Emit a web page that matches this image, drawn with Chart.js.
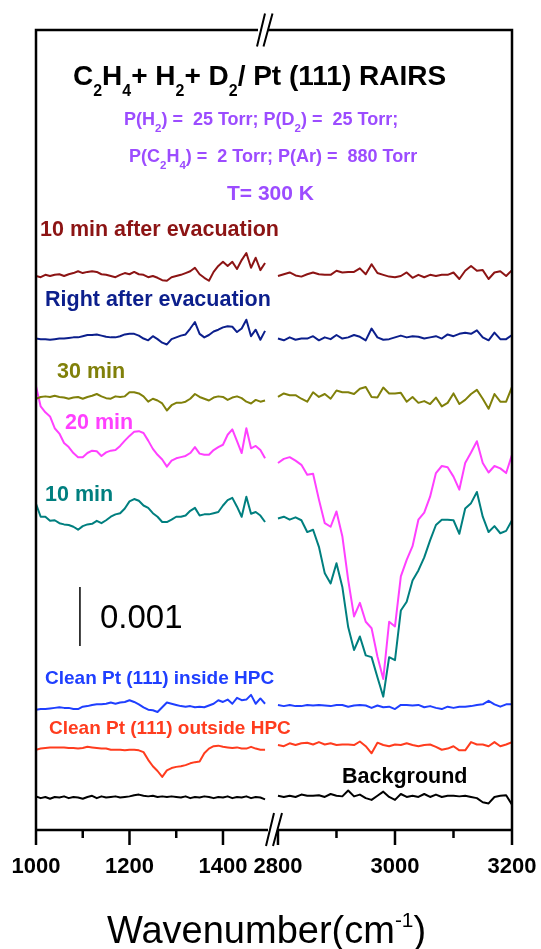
<!DOCTYPE html>
<html>
<head>
<meta charset="utf-8">
<script src="https://cdn.jsdelivr.net/npm/chart.js@4.4.1/dist/chart.umd.min.js"></script>
<style>
  html, body { margin: 0; padding: 0; background: #fff; }
  canvas { display: block; }
</style>
</head>
<body>
<canvas id="chart-rairs" width="541" height="949"></canvas>
<script>
const FONT = '"Liberation Sans", Arial, Helvetica, sans-serif'

// wavenumbers (cm-1) on both sides of the axis break
const waveLow = [1000, 1010, 1020, 1030, 1040, 1050, 1060, 1070, 1080, 1090,
    1100, 1110, 1120, 1130, 1140, 1150, 1160, 1170, 1180, 1190,
    1200, 1210, 1220, 1230, 1240, 1250, 1260, 1270, 1280, 1290,
    1300, 1310, 1320, 1330, 1340, 1350, 1360, 1370, 1380, 1390,
    1400, 1410, 1420, 1430, 1440, 1450, 1460, 1470, 1480, 1490]
const waveHigh = [2800, 2810, 2820, 2830, 2840, 2850, 2860, 2870, 2880, 2890,
    2900, 2910, 2920, 2930, 2940, 2950, 2960, 2970, 2980, 2990,
    3000, 3010, 3020, 3030, 3040, 3050, 3060, 3070, 3080, 3090,
    3100, 3110, 3120, 3130, 3140, 3150, 3160, 3170, 3180, 3190, 3200]

const lowMajorTicks = [1000, 1200, 1400]
const lowMinorTicks = [1100, 1300]
const highMajorTicks = [2800, 3000, 3200]
const highMinorTicks = [2900, 3100]

// spectra in 1e-4 absorbance units, relative to each trace's baseline
const after10Low = [0, -0.2, 0.2, 0, 0.2, 0.3, 0, 0.3, 0.5, 0.8,
    0.5, 0.7, 0.8, 0.7, 0.3, 0.2, 0, -0.2, 0.2, 0.5,
    0.3, 0.7, 0.3, 0.2, -0.2, 0, -0.3, -0.7, -0.8, -0.2,
    0, 0.2, 0.5, 0.8, 1.4, 0.3, -0.3, -0.8, 0.7, 1.7,
    2.4, 1.7, 2.4, 1.2, 2.7, 3.9, 1.4, 3.1, 1.0, 2.2]
const after10High = [0, 0.3, 0.6, 0.1, -0.1, 0.3, 0.6, 0.3, 0.2, 0.2,
    0.9, 0.6, 0.7, 0.7, 1.3, 0.3, 2.0, 0.5, 0.2, -0.1,
    -0.2, 0, 0.6, -0.3, 0.2, -0.2, 0.2, 0, 0.2, 0.2,
    0.6, -0.5, 0.9, 1.7, 0.9, 1.0, -0.5, 0.6, 0.8, 0, 1.0]

const afterNowLow = [0, -0.1, -0.1, -0.2, -0.1, 0, 0, 0.1, 0.2, 0.2,
    0.4, 0.6, 0.6, 0.7, 0.5, 0.3, 0.2, 0.2, 0.4, 0.7,
    0.8, 0.8, 0.5, 0, -0.3, 0.4, -0.1, -0.7, -1.0, -0.1,
    0.2, 0.5, 0.7, 1.7, 2.8, 0.8, 0.2, 0.6, 1.2, 1.5,
    1.9, 2.1, 2.0, 1.1, 1.7, 3.2, 0.4, 1.5, -0.2, 1.3]
const afterNowHigh = [0, -0.3, 0.2, -0.2, 0, 0, 0.4, -0.3, 0.2, -0.1,
    0.6, 0, 0.2, 0.6, 0.3, -0.3, 1.7, 0.2, -0.2, -0.1,
    0.2, 0.5, 0.2, 0.4, 0.3, 0, 0.2, 0.4, 0, 0.7,
    0.4, 0.8, 1.0, 0.8, 1.4, 0.2, -0.3, 1.0, -0.1, -0.1, 0.6]

const min30Low = [-0.3, 0, 0.1, 0, 0.2, 0, -0.1, -0.3, -0.1, 0,
    -0.3, 0, 0.2, 0.5, 0.1, -0.2, -0.3, 0.1, 0, 0.1,
    0.8, 0.8, 0.6, 0.1, -0.8, -0.3, -0.6, -1.1, -2.3, -1.4,
    -1.0, -1.0, -0.8, -0.3, 0.5, 0, -0.3, -0.6, -0.1, 0.1,
    0, -0.5, -0.1, 0.1, -0.2, -0.8, -1.1, -0.5, -0.8, -0.6]
const min30High = [0, 0.6, 0.3, 0.3, -0.3, -0.8, 0.8, 0, 0.5, -0.3,
    1.1, 0.8, 0.8, 0.5, 1.4, 1.7, 0, -0.1, 1.6, 0.6,
    0.6, 0.7, -0.8, 0, -1.0, -0.7, -1.2, -0.1, -1.6, -1.0,
    0.6, -1.2, -0.5, 0.5, 1.2, -0.3, -2.0, 0.5, -0.8, -0.8, 1.7]

const min20Low = [11.6, 8.2, 7.2, 6.5, 4.5, 3.6, 2.0, 1.3, 0.3, -0.4,
    -0.4, 0.3, 0.7, 0.6, -0.2, 0.4, 0.7, 0.8, 1.5, 2.4,
    3.2, 3.9, 4.0, 3.7, 2.4, 1.0, 0, -0.8, -2.0, -1.0,
    -0.6, -0.4, -0.2, 0.3, 1.3, 0.2, 0, 0, 0.8, 1.3,
    1.7, 3.4, 4.3, 2.3, 0.3, 4.5, 1.1, 1.5, 0.8, -0.6]
const min20High = [-1.4, -0.7, -0.4, -1.0, -1.7, -3.4, -3.2, -7.6, -11.6, -12.2,
    -9.6, -13.8, -21.2, -27.4, -25.1, -28.3, -29.4, -34.2, -38.0, -28.3,
    -29.1, -20.6, -17.8, -15.5, -11.0, -9.8, -7.1, -3.1, -1.9, -2.1,
    -3.7, -5.9, -1.4, 0.4, 2.3, -1.4, -3.0, -1.9, -2.3, -3.1, 0]

const min10Low = [2.8, 0.6, 0.6, -0.1, 0, -0.5, -0.7, -0.8, -1.1, -1.6,
    -1.0, -0.7, -0.6, -0.1, -0.5, 0, 0.6, 1.0, 1.2, 2.0,
    3.2, 3.6, 3.3, 2.5, 2.1, 1.2, 0.6, -0.3, -0.3, 0.1,
    0.6, 0.6, 0.8, 1.6, 2.1, 0.8, 1.0, 1.0, 1.2, 1.4,
    2.5, 3.4, 3.8, 2.3, 0.6, 4.0, 1.1, 1.4, 0.8, -0.3]
const min10High = [0.3, 0.6, 0.1, 0.5, 0, -2.0, -1.6, -4.5, -9.0, -10.7,
    -7.3, -11.3, -18.1, -22.0, -19.7, -22.9, -23.2, -26.6, -29.9, -23.2,
    -23.7, -15.3, -13.8, -10.2, -8.5, -6.3, -3.4, -0.8, 0.1, 0.1,
    0, -2.3, 2.0, 2.9, 4.8, 0.6, -2.0, -1.0, -2.2, -1.8, 0]

const insideLow = [-0.2, -0.1, -0.1, 0, 0.1, 0.2, 0.1, 0.1, -0.1, -0.1,
    0.3, 0.4, 0.6, 0.7, 0.7, 0.8, 1.0, 0.8, 1.0, 1.1,
    1.4, 1.1, 0.7, 0.2, -0.2, -0.3, -0.6, 0.2, 1.0, 0.8,
    0.6, 0.4, 0.3, 0.4, 0.2, 0.3, 0.2, 0.5, 0.8, 1.4,
    1.1, 1.5, 0.8, 1.8, 1.4, 1.5, 2.3, 0.8, 1.7, 0.8]
const insideHigh = [0.6, 0.4, 0.6, 0.4, 0.4, 0.6, 0.5, 0.6, 0.5, 0.4,
    0.6, 0.6, 0.3, 0.5, 0.6, 0.5, 0.1, 0.5, 0.2, 0.3,
    -0.1, 0.6, 0.6, 0.5, 0.6, 0.2, 0.4, 0.1, -0.1, 0.3,
    0.1, 0.3, 0.3, 0.4, 0.6, 0.7, 1.3, 0.7, 0.3, 0.7, 0.7]

const outsideLow = [-0.1, 0.1, 0.2, 0.3, 0.3, 0.3, 0.3, 0.2, 0.2, 0.1,
    0.2, 0.4, 0.3, 0.2, 0.1, 0.1, -0.1, -0.1, -0.1, -0.2,
    -0.1, -0.1, -0.2, -0.5, -1.8, -2.9, -3.7, -4.7, -3.6, -3.2,
    -3.0, -2.9, -2.7, -2.4, -2.2, -2.1, -0.7, 0.1, 0.5, 0.6,
    0.4, 0.3, 0.2, 0.3, 0.1, 0.1, 0.4, 0.1, -0.1, -0.1]
const outsideHigh = [0.7, 0.5, 1.0, 0.7, 1.0, 1.1, 0.8, 1.2, 0.8, 1.0,
    0.7, 0.8, 0.8, 0.7, 1.3, 0.5, -0.7, 1.1, 0.7, 0.5,
    0.8, 0.7, 1.0, 0.7, 0.5, 0.7, 0.8, 0.4, -0.1, 0.1,
    0.5, -0.2, -0.2, 1.2, 0.8, 0.8, 0.5, 1.2, 0.5, 0.8, 1.2]

const backgroundLow = [0.2, -0.1, 0.1, -0.2, 0.1, 0, 0.2, -0.1, 0.1, 0,
    -0.2, 0.1, 0.3, -0.1, 0.2, 0, 0.1, 0.2, 0, 0.1,
    0.2, 0.4, 0.5, 0.3, 0.2, 0.3, 0.1, 0.2, 0.1, 0.2,
    0.1, 0, 0.2, -0.1, 0.1, 0, 0.2, 0.1, -0.1, 0.1,
    0, 0.2, -0.1, 0.1, 0, 0.2, -0.1, 0.1, 0, -0.3]
const backgroundHigh = [0.3, 0.1, 0.3, 0.1, 0.5, 0.3, 0.3, 0.4, 0.1, 0.6,
    0.3, 0.2, 1.2, 0.2, 0.5, -0.1, -0.4, 0.3, 1.0, 0.1,
    -0.4, 0.6, 0.1, 0.3, 0.1, 0.6, 0.1, 0.5, 0.1, 0.3,
    0.3, 0.2, 0.3, 0.1, -0.1, -0.8, -1.0, 0.1, 0.3, 0.4, -1.2]

const traceNames = ["10 min after evacuation", "Right after evacuation", "30 min", "20 min",
    "10 min", "Clean Pt (111) inside HPC", "Clean Pt (111) outside HPC", "Background"]
const traceLow = [after10Low, afterNowLow, min30Low, min20Low, min10Low, insideLow, outsideLow, backgroundLow]
const traceHigh = [after10High, afterNowHigh, min30High, min20High, min10High, insideHigh, outsideHigh, backgroundHigh]
// vertical offset of each spectrum in the stack
const traceOffsets = [93.9, 83.3, 73.4, 63.6, 52.5, 20.6, 13.7, 5.5]

const scaleBar = 10  // 0.001 absorbance

const traceColors = ["#8c1414", "#0c1f8c", "#80800a", "#ff40ff", "#007f7f", "#1f3fff", "#ff3c1e", "#000000"]
const labelPos = [[40, 236], [45, 306], [57, 378], [65, 429], [45, 501], [45, 684], [49, 734], [342, 783]]
const labelSize = [21.5, 21.5, 21.5, 21.5, 21.5, 19, 19, 21.5]
const PURPLE = "#9c4cff"

// text with sub/superscript pieces, drawn left to right
function drawRich(ctx, parts, x, y, size, weight, color, subScale, subDrop) {
    ctx.fillStyle = color
    ctx.textAlign = "left"
    ctx.textBaseline = "alphabetic"
    for (const [text, kind] of parts) {
        let s = size
        let dy = 0
        if (kind === "sub") { s = size * subScale; dy = size * subDrop }
        if (kind === "sup") { s = size * subScale; dy = -size * subDrop }
        ctx.font = `${weight} ${s}px ${FONT}`
        ctx.fillText(text, x, y + dy)
        x += ctx.measureText(text).width
    }
}

const frame = {
    id: "frame",
    afterDatasetsDraw(chart) {
        const { ctx, chartArea: a, scales } = chart
        const lo = scales.xLow
        const hi = scales.xHigh
        const bx = lo.right

        ctx.save()
        ctx.strokeStyle = "#000"
        ctx.lineWidth = 2.5
        ctx.beginPath()
        ctx.moveTo(a.left, a.top - 1.2)
        ctx.lineTo(a.left, a.bottom + 1.2)
        ctx.moveTo(a.right, a.top - 1.2)
        ctx.lineTo(a.right, a.bottom + 1.2)
        ctx.moveTo(a.left, a.top)
        ctx.lineTo(bx - 15, a.top)
        ctx.moveTo(bx - 5, a.top)
        ctx.lineTo(a.right, a.top)
        ctx.moveTo(a.left, a.bottom)
        ctx.lineTo(bx - 5, a.bottom)
        ctx.moveTo(bx + 5, a.bottom)
        ctx.lineTo(a.right, a.bottom)

        // ticks below the axis
        const tick = (scale, values, len) => {
            for (const v of values) {
                const px = scale.getPixelForValue(v)
                ctx.moveTo(px, a.bottom)
                ctx.lineTo(px, a.bottom + len)
            }
        }
        tick(lo, lowMajorTicks, 15)
        tick(hi, highMajorTicks, 15)
        tick(lo, lowMinorTicks, 8)
        tick(hi, highMinorTicks, 8)
        ctx.stroke()

        // break marks
        ctx.lineWidth = 2
        ctx.beginPath()
        ctx.moveTo(bx - 16, a.top + 16.5)
        ctx.lineTo(bx - 8, a.top - 16.5)
        ctx.moveTo(bx - 9.5, a.top + 16.5)
        ctx.lineTo(bx - 0.5, a.top - 16.5)
        ctx.moveTo(bx - 7, a.bottom + 16)
        ctx.lineTo(bx + 1, a.bottom - 17)
        ctx.moveTo(bx, a.bottom + 16)
        ctx.lineTo(bx + 9, a.bottom - 17)
        ctx.stroke()
        ctx.restore()
    },
    afterDraw(chart) {
        const { ctx, scales } = chart
        ctx.save()

        drawRich(ctx, [["C"], ["2", "sub"], ["H"], ["4", "sub"], ["+ H"], ["2", "sub"], ["+ D"], ["2", "sub"], ["/ Pt (111) RAIRS"]],
            73, 85, 28, "bold", "#000", 0.57, 0.41)
        drawRich(ctx, [["P(H"], ["2", "sub"], [") =  25 Torr; P(D"], ["2", "sub"], [") =  25 Torr;"]],
            124, 125, 18, "bold", PURPLE, 0.64, 0.4)
        drawRich(ctx, [["P(C"], ["2", "sub"], ["H"], ["4", "sub"], [") =  2 Torr; P(Ar) =  880 Torr"]],
            129, 162, 18, "bold", PURPLE, 0.64, 0.4)
        drawRich(ctx, [["T= 300 K"]], 227, 200, 21, "bold", PURPLE, 0.64, 0.4)

        traceNames.forEach((name, i) => {
            ctx.font = `bold ${labelSize[i]}px ${FONT}`
            ctx.fillStyle = traceColors[i]
            ctx.fillText(name, labelPos[i][0], labelPos[i][1])
        })

        // scale bar value
        const barX = scales.xLow.getPixelForValue(1094)
        const barMid = scales.y.getPixelForValue(31.2 + scaleBar / 2)
        ctx.font = `33px ${FONT}`
        ctx.fillStyle = "#000"
        ctx.fillText((scaleBar / 10000).toFixed(3), barX + 20, barMid + 12)

        drawRich(ctx, [["Wavenumber(cm"], ["-1", "sup"], [")"]], 107, 943, 38, "normal", "#000", 0.55, 0.42)
        ctx.restore()
    }
}

const datasets = []
traceLow.forEach((vals, i) => {
    const style = { borderColor: traceColors[i], borderWidth: 2, pointRadius: 0, borderJoinStyle: "round" }
    datasets.push({ ...style, label: traceNames[i], xAxisID: "xLow",
        data: waveLow.map((x, j) => ({ x, y: traceOffsets[i] + vals[j] })) })
    datasets.push({ ...style, label: traceNames[i], xAxisID: "xHigh",
        data: waveHigh.map((x, j) => ({ x, y: traceOffsets[i] + traceHigh[i][j] })) })
})
datasets.push({ label: "0.001", xAxisID: "xLow", borderColor: "#000", borderWidth: 1.5, pointRadius: 0,
    data: [{ x: 1094, y: 31.2 }, { x: 1094, y: 31.2 + scaleBar }] })

const tickFont = { family: FONT, size: 22, weight: "bold" }
const axisBase = {
    type: "linear",
    position: "bottom",
    stack: "wavenumber",
    grid: { display: false, drawTicks: false },
    border: { display: false },
    ticks: { font: tickFont, color: "#000", padding: 24, autoSkip: false, maxRotation: 0, callback: (v) => String(v) },
    afterFit: (scale) => {
        scale.height = 119
        scale.paddingLeft = 0
        scale.paddingRight = 0
    }
}

const ctx = document.getElementById("chart-rairs").getContext("2d")
new Chart(ctx, {
    type: "line",
    data: { datasets },
    options: {
        responsive: false,
        animation: false,
        layout: { padding: { left: 36, right: 29, top: 30, bottom: 0 } },
        plugins: { legend: { display: false }, tooltip: { enabled: false } },
        elements: { line: { tension: 0 } },
        scales: {
            xLow: { ...axisBase, min: 1000, max: 1507, stackWeight: 237,
                afterBuildTicks: (s) => { s.ticks = lowMajorTicks.map((value) => ({ value })) } },
            xHigh: { ...axisBase, min: 2791.5, max: 3200, stackWeight: 239,
                afterBuildTicks: (s) => { s.ticks = highMajorTicks.map((value) => ({ value })) } },
            y: { display: false, min: 0, max: 135.6 }
        }
    },
    plugins: [frame]
})
</script>
</body>
</html>
